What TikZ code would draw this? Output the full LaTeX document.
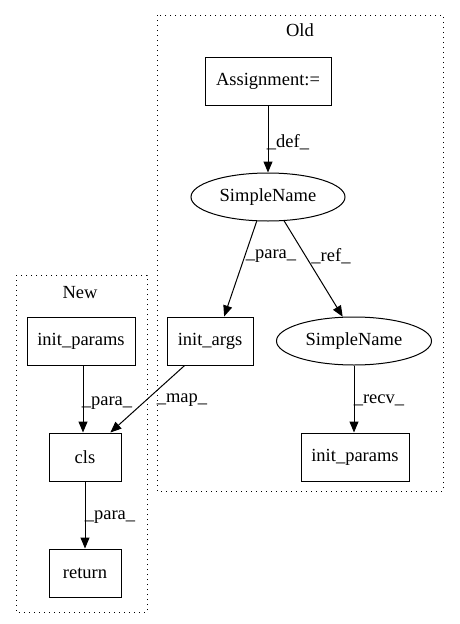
\documentclass[tikz,border=0pt]{standalone}
\usepackage{fontspec}
\setmainfont{Liberation Serif}
\usetikzlibrary{arrows.meta,shapes.geometric}
\begin{document}
\begin{tikzpicture}[x=1pt,y=-1pt,
  every node/.style={font=\fontsize{18.5}{21}\selectfont, inner sep=0pt},
  box/.style={draw, line width=1pt, rectangle, minimum height=48pt},
  ell/.style={draw, line width=1pt, ellipse, minimum width=154pt, minimum height=48pt},
  cluster/.style={draw, line width=1pt, dash pattern=on 1pt off 4pt},
  edge/.style={draw, line width=1pt, -{Triangle[length=11pt,width=9pt]}},
  lbl/.style={fill=none}
]
\useasboundingbox (0,0) rectangle (459,624);
% clusters
\draw[cluster] (157,15) rectangle (443,491);
\node (oldt) at (300,30) {Old};
\draw[cluster] (16,275) rectangle (147,612);
\node (newt) at (80,293) {New};
% nodes
\node[box, minimum width=126pt] (asg) at (268,81) {Assignment:=};
\node[ell] (sn1) at (268,197) {SimpleName};
\node[box, minimum width=86pt] (ia) at (210,341) {init\_args};
\node[ell, minimum width=155pt] (sn2) at (354,341) {SimpleName};
\node[box, minimum width=108pt] (ipo) at (355,457) {init\_params};
\node[box, minimum width=108pt] (ipn) at (81,341) {init\_params};
\node[box, minimum width=72pt] (cls) at (85,457) {cls};
\node[box, minimum width=72pt] (ret) at (85,573) {return};
% edges
\draw[edge] (asg.south) -- (sn1.north);
\node[lbl] (l1) at (288,142) {\_def\_};
\draw[edge] (sn1.245) -- (ia.60);
\node[lbl] (l2) at (271,256) {\_para\_};
\draw[edge] (sn1.304) -- (sn2.115);
\node[lbl] (l3) at (331,256) {\_ref\_};
\draw[edge] (sn2.south) -- ([xshift=-1pt]ipo.north);
\node[lbl] (l4) at (379,400) {\_recv\_};
\draw[edge] (ia.224) -- (cls.44);
\node[lbl] (l5) at (182,400) {\_map\_};
\draw[edge] ([xshift=2pt]ipn.south) -- ([xshift=-2pt]cls.north);
\node[lbl] (l6) at (107,403) {\_para\_};
\draw[edge] (cls.south) -- (ret.north);
\node[lbl] (l7) at (110,517) {\_para\_};
\end{tikzpicture}
\end{document}
